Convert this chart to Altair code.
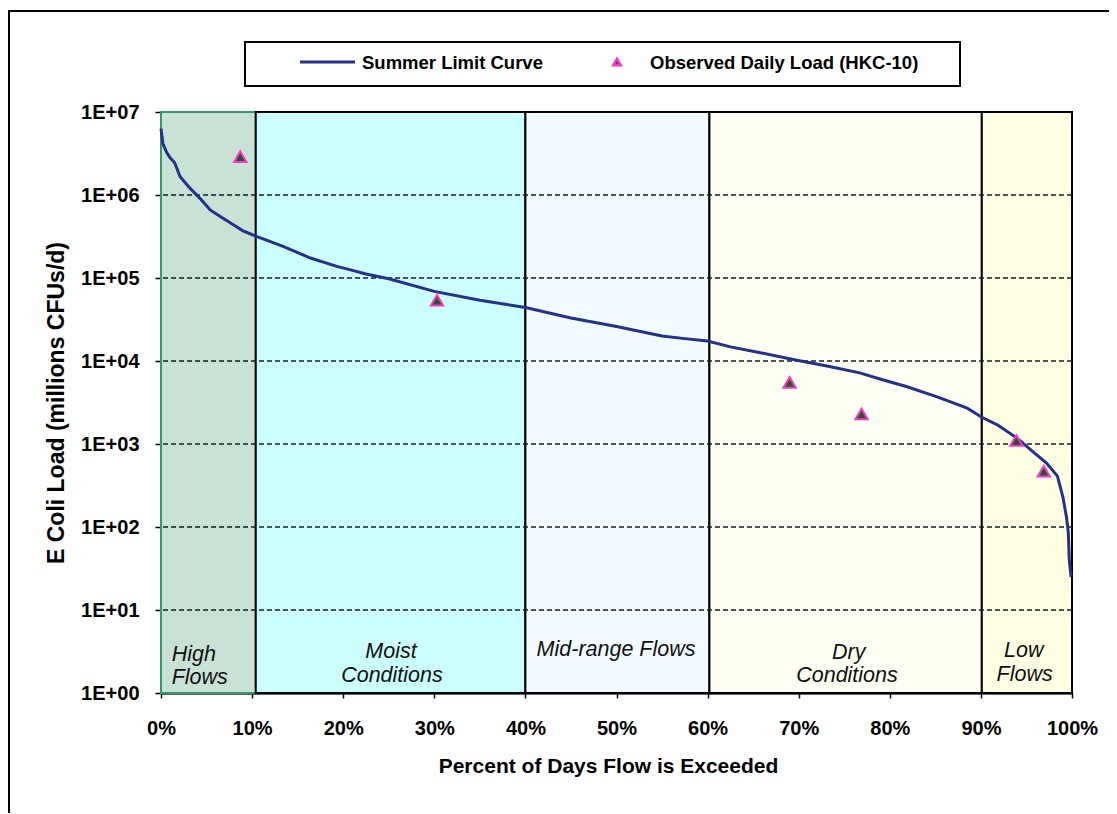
import altair as alt
import pandas as pd

# ---- data ----
curve_pct = [0.0, 0.2, 0.6, 1.0, 1.5, 2.1, 3.2, 4.3, 5.4, 6.5, 7.9, 9.0, 10.4, 13.4, 16.4,
             19.3, 20.7, 22.5, 25.0, 30.0, 35.0, 40.0, 45.0, 50.0, 55.0, 57.5, 60.0, 62.5,
             65.8, 69.8, 73.1, 76.7, 79.3, 81.9, 85.2, 88.5, 90.1, 91.8, 94.0, 95.7, 97.2,
             98.4, 99.0, 99.4, 99.6, 99.7, 99.9]
curve_load = [6.3e6, 4.2e6, 3.3e6, 2.8e6, 2.45e6, 1.66e6, 1.2e6, 9.1e5, 6.6e5, 5.5e5, 4.4e5,
              3.7e5, 3.2e5, 2.4e5, 1.74e5, 1.38e5, 1.26e5, 1.12e5, 9.8e4, 6.9e4, 5.4e4, 4.4e4,
              3.3e4, 2.6e4, 2.0e4, 1.86e4, 1.74e4, 1.48e4, 1.26e4, 1.02e4, 8.7e3, 7.2e3,
              5.9e3, 4.9e3, 3.7e3, 2.7e3, 2.1e3, 1.7e3, 1.17e3, 8.1e2, 5.9e2, 4.1e2, 2.3e2,
              1.3e2, 85, 40, 25]

obs_pct = [8.7, 30.3, 69.0, 76.9, 93.9, 96.9]
obs_load = [2.9e6, 5.4e4, 5.5e3, 2.3e3, 1.1e3, 4.7e2]

zone_names = ["High Flows", "Moist Conditions", "Mid-range Flows", "Dry Conditions", "Low Flows"]
zone_start = [0, 10.4, 40, 60.2, 90.1]
zone_end = [10.4, 40, 60.2, 90.1, 100]
zone_fill = ["#C9E2D6", "#CCFFFF", "#F2FBFF", "#FFFFF3", "#FFFFE4"]
zone_stroke = ["#339966", "#000000", "#000000", "#000000", "#000000"]

grid_loads = [1e1, 1e2, 1e3, 1e4, 1e5, 1e6]
y_ticks = [1, 1e1, 1e2, 1e3, 1e4, 1e5, 1e6, 1e7]
x_ticks = [0, 10, 20, 30, 40, 50, 60, 70, 80, 90, 100]

zone_label_text = ["High", "Flows", "Moist", "Conditions", "Mid-range Flows",
                   "Dry", "Conditions", "Low", "Flows"]
zone_label_pct = [3.6, 4.25, 25.25, 25.35, 49.95, 75.5, 75.3, 94.7, 94.8]
zone_label_ypix = [543, 566, 540, 564, 538, 541, 564, 539, 563]

FONT = "Liberation Sans"
W, H = 911, 581

curve_df = pd.DataFrame({"pct": curve_pct, "load": curve_load})
obs_df = pd.DataFrame({"pct": obs_pct, "load": obs_load})
zone_df = pd.DataFrame({"zone": zone_names, "pct": zone_start, "pct_end": zone_end,
                        "fill": zone_fill, "stroke": zone_stroke})
grid_df = pd.DataFrame({"load": grid_loads})
lab_df = pd.DataFrame({"text": zone_label_text, "pct": zone_label_pct, "ypix": zone_label_ypix})
one = pd.DataFrame({"k": [0]})

x_scale = alt.Scale(domain=[0, 100], nice=False, zero=False)
y_scale = alt.Scale(type="log", domain=[1, 1e7], nice=False)

x_axis = alt.Axis(
    values=x_ticks, labelExpr="datum.value + '%'", labelFont=FONT, labelFontSize=20,
    labelFontWeight="bold", labelColor="black", labelPadding=20, labelFlush=False,
    labelOverlap=False, tickSize=5, tickColor="black", tickWidth=1.5,
    domainColor="#1E3333", domainWidth=2.5, grid=False,
    title="Percent of Days Flow is Exceeded", titleFont=FONT, titleFontSize=21,
    titleFontWeight="bold", titleColor="black", titleX=447, titleY=73,
    titleBaseline="middle", titleAlign="center")
y_axis = alt.Axis(
    values=y_ticks, labelExpr="'1E+0' + format(log(datum.value)/LN10, '.0f')",
    labelFont=FONT, labelFontSize=20, labelFontWeight="bold", labelColor="black",
    labelPadding=16, labelFlush=False, labelOverlap=False, tickSize=6, tickColor="black",
    tickWidth=1.5, domain=False, grid=False,
    title="E Coli Load (millions CFUs/d)", titleFont=FONT, titleFontSize=23,
    titleFontWeight="bold", titleColor="black", titleX=-105, titleY=290.5,
    titleBaseline="middle", titleAlign="center", titleAngle=270)

# outer frame
frame = alt.Chart(one).mark_rect(fillOpacity=0, stroke="black", strokeWidth=2).encode(
    x=alt.value(-152), x2=alt.value(1200), y=alt.value(-101), y2=alt.value(900))

zones = alt.Chart(zone_df).mark_rect(strokeWidth=2).encode(
    x=alt.X("pct:Q", scale=x_scale, axis=x_axis),
    x2="pct_end:Q",
    y=alt.value(0), y2=alt.value(H),
    fill=alt.Fill("fill:N", scale=None),
    stroke=alt.Stroke("stroke:N", scale=None))

grid = alt.Chart(grid_df).mark_rule(color="#122222", strokeWidth=1.4, strokeDash=[5, 3]).encode(
    y=alt.Y("load:Q", scale=y_scale, axis=y_axis))

labels = alt.Chart(lab_df).mark_text(font=FONT, fontSize=21.5, fontStyle="italic",
                                     color="#111111", align="center", baseline="middle").encode(
    x=alt.X("pct:Q", scale=x_scale),
    y=alt.Y("ypix:Q", scale=None, axis=None),
    text="text:N")

curve = alt.Chart(curve_df).mark_line(color="#23308C", strokeWidth=3).encode(
    x=alt.X("pct:Q", scale=x_scale),
    y=alt.Y("load:Q", scale=y_scale))

obs = alt.Chart(obs_df).mark_point(shape="triangle-up", filled=True, fill="#1E5A2A",
                                   stroke="#FF33CC", strokeWidth=2, size=150, opacity=1).encode(
    x=alt.X("pct:Q", scale=x_scale),
    y=alt.Y("load:Q", scale=y_scale))

# legend box (drawn)
leg_box = alt.Chart(one).mark_rect(fill="white", stroke="black", strokeWidth=2).encode(
    x=alt.value(84), x2=alt.value(799), y=alt.value(-70), y2=alt.value(-26))
leg_line = alt.Chart(one).mark_rule(color="#23308C", strokeWidth=3).encode(
    x=alt.value(139), x2=alt.value(194), y=alt.value(-50))
leg_text1 = alt.Chart(one).mark_text(text="Summer Limit Curve", font=FONT, fontSize=18.5,
                                     fontWeight="bold", align="left", baseline="middle",
                                     color="black").encode(x=alt.value(201), y=alt.value(-49))
leg_tri = alt.Chart(one).mark_point(shape="triangle-up", filled=True, fill="#1E5A2A",
                                    stroke="#FF33CC", strokeWidth=2.5, size=55, opacity=1).encode(
    x=alt.value(456), y=alt.value(-50))
leg_text2 = alt.Chart(one).mark_text(text="Observed Daily Load (HKC-10)", font=FONT, fontSize=18.5,
                                     fontWeight="bold", align="left", baseline="middle",
                                     color="black").encode(x=alt.value(489), y=alt.value(-49))

chart = alt.layer(
    frame, zones, grid, labels, curve, obs, leg_box, leg_line, leg_text1, leg_tri, leg_text2
).properties(
    width=W, height=H,
    autosize=alt.AutoSizeParams(type="none"),
    padding={"left": 153, "top": 104, "right": 37, "bottom": 120},
    background="white",
).configure_view(stroke="transparent")

chart.save("out.html", embed_options={"renderer": "svg", "actions": False})
